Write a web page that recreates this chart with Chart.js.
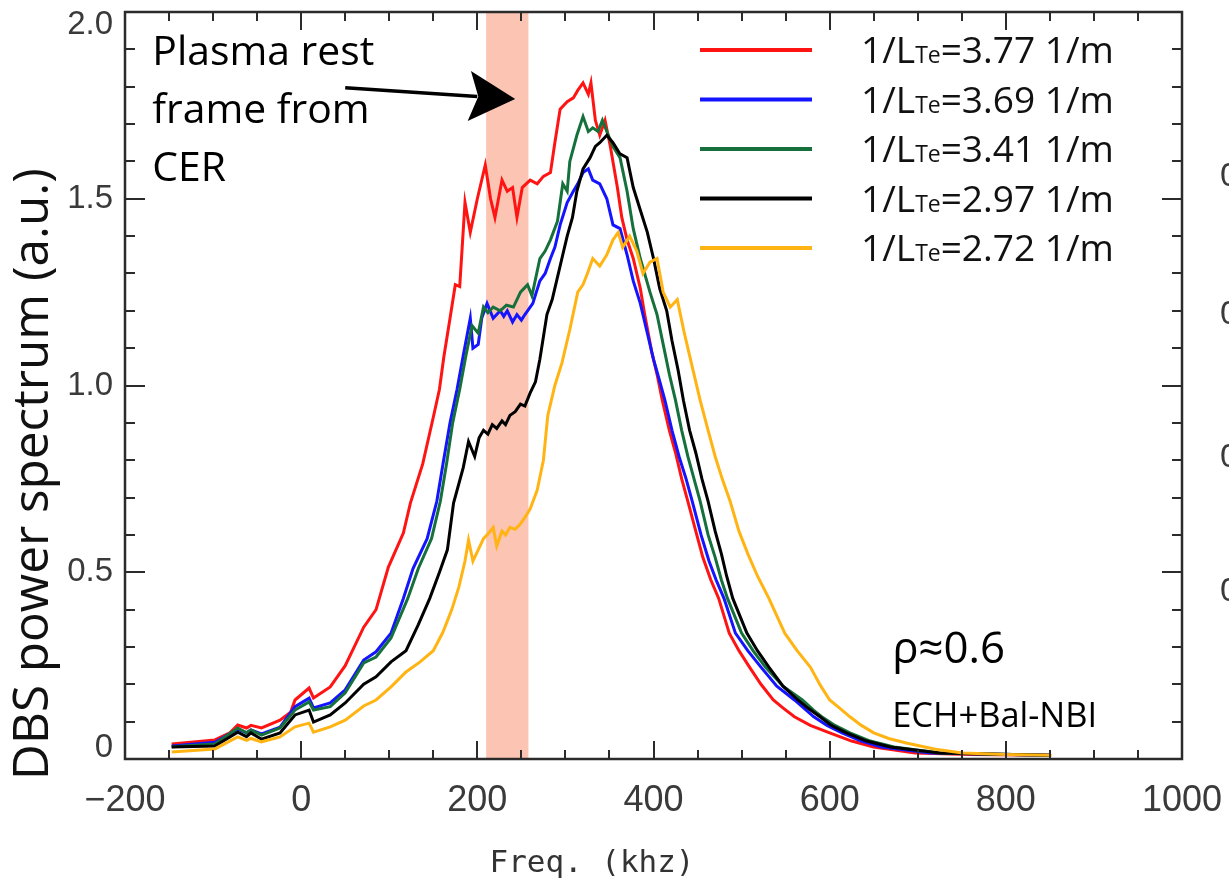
<!DOCTYPE html>
<html>
<head>
<meta charset="utf-8">
<script src="https://cdn.jsdelivr.net/npm/chart.js@4.4.1/dist/chart.umd.min.js"></script>
<style>
    html, body { margin: 0; padding: 0; background: #fff; }
    #wrap { position: relative; width: 1229px; height: 882px; }
</style>
</head>
<body>
<div id="wrap"><canvas id="dbsChart"></canvas></div>
<script>
/* DBS spectra, [freq (kHz), power (a.u.)] */
const redCurve = [[-147,0.040],[-98,0.051],[-81,0.070],[-72,0.091],[-62,0.083],[-57,0.090],[-45,0.083],[-24,0.104],[-12,0.125],[-7,0.158],[9,0.190],[14,0.163],[33,0.193],[50,0.250],[71,0.353],[85,0.400],[99,0.514],[116,0.605],[124,0.685],[138,0.790],[150,0.915],[157,0.990],[162,1.077],[169,1.180],[175,1.270],[180,1.265],[186,1.490],[192,1.410],[200,1.500],[209,1.590],[215,1.500],[220,1.450],[228,1.550],[234,1.520],[240,1.530],[245,1.450],[251,1.530],[260,1.550],[268,1.540],[275,1.560],[283,1.570],[288,1.650],[294,1.740],[302,1.760],[309,1.770],[314,1.790],[320,1.810],[326,1.780],[329,1.810],[334,1.710],[339,1.670],[345,1.710],[351,1.640],[359,1.530],[364,1.450],[370,1.390],[377,1.340],[385,1.260],[390,1.190],[398,1.090],[404,1.030],[410,0.960],[418,0.880],[425,0.820],[432,0.750],[439,0.690],[448,0.610],[456,0.540],[465,0.480],[474,0.430],[486,0.337],[497,0.290],[509,0.246],[522,0.200],[536,0.158],[548,0.135],[560,0.113],[578,0.090],[600,0.070],[625,0.048],[650,0.032],[697,0.016],[760,0.012],[850,0.010]]

const blueCurve = [[-147,0.035],[-98,0.045],[-72,0.080],[-62,0.070],[-57,0.078],[-45,0.067],[-24,0.085],[-7,0.140],[9,0.163],[14,0.137],[33,0.150],[50,0.185],[71,0.265],[85,0.287],[102,0.337],[116,0.430],[127,0.510],[143,0.590],[154,0.690],[161,0.790],[169,0.900],[177,0.990],[184,1.080],[192,1.180],[195,1.100],[201,1.110],[205,1.180],[211,1.220],[218,1.180],[226,1.200],[230,1.185],[234,1.200],[240,1.170],[245,1.190],[250,1.175],[254,1.190],[263,1.220],[271,1.280],[277,1.300],[283,1.340],[288,1.370],[294,1.430],[302,1.490],[309,1.520],[314,1.540],[320,1.570],[326,1.580],[331,1.550],[339,1.540],[347,1.500],[354,1.430],[362,1.420],[370,1.350],[377,1.280],[385,1.220],[393,1.140],[400,1.070],[406,1.020],[413,0.960],[421,0.880],[429,0.810],[437,0.750],[444,0.690],[454,0.600],[463,0.530],[471,0.480],[480,0.430],[493,0.337],[507,0.290],[522,0.246],[540,0.195],[560,0.158],[582,0.113],[597,0.090],[614,0.070],[636,0.048],[659,0.032],[714,0.016],[850,0.010]]

const greenCurve = [[-147,0.033],[-98,0.040],[-72,0.083],[-62,0.070],[-57,0.078],[-45,0.064],[-24,0.083],[-7,0.131],[9,0.153],[14,0.131],[33,0.140],[50,0.177],[71,0.257],[85,0.273],[102,0.324],[121,0.430],[133,0.510],[148,0.590],[158,0.690],[165,0.790],[172,0.900],[180,0.990],[187,1.080],[194,1.160],[201,1.140],[207,1.210],[212,1.195],[218,1.210],[226,1.200],[233,1.215],[241,1.210],[249,1.250],[257,1.270],[262,1.240],[271,1.340],[277,1.360],[283,1.390],[291,1.440],[297,1.540],[302,1.520],[305,1.600],[313,1.670],[320,1.720],[326,1.680],[331,1.690],[337,1.680],[342,1.710],[347,1.680],[354,1.640],[362,1.610],[370,1.520],[377,1.420],[385,1.340],[396,1.250],[404,1.190],[411,1.110],[418,1.030],[425,0.960],[432,0.880],[439,0.810],[446,0.750],[453,0.690],[462,0.600],[470,0.540],[477,0.480],[484,0.430],[500,0.337],[513,0.290],[527,0.246],[547,0.195],[569,0.158],[582,0.130],[591,0.113],[606,0.090],[623,0.070],[646,0.048],[673,0.032],[725,0.016],[850,0.010]]

const blackCurve = [[-147,0.032],[-98,0.035],[-72,0.072],[-62,0.060],[-57,0.070],[-45,0.053],[-24,0.070],[-7,0.118],[9,0.131],[14,0.099],[33,0.118],[50,0.150],[71,0.200],[85,0.220],[102,0.260],[119,0.290],[133,0.360],[146,0.430],[157,0.500],[166,0.560],[173,0.685],[184,0.780],[190,0.850],[197,0.810],[202,0.860],[207,0.880],[212,0.870],[217,0.895],[222,0.885],[228,0.905],[232,0.895],[237,0.920],[243,0.930],[249,0.950],[254,0.945],[260,0.980],[266,1.010],[271,1.070],[279,1.190],[285,1.230],[291,1.290],[296,1.340],[302,1.400],[308,1.450],[313,1.520],[320,1.580],[328,1.610],[334,1.640],[339,1.650],[347,1.670],[354,1.650],[362,1.620],[370,1.610],[377,1.530],[385,1.470],[393,1.410],[400,1.340],[407,1.260],[415,1.200],[421,1.120],[428,1.040],[434,0.960],[441,0.880],[448,0.820],[455,0.750],[462,0.690],[470,0.610],[477,0.550],[483,0.490],[490,0.430],[506,0.337],[518,0.290],[531,0.246],[547,0.195],[564,0.158],[576,0.135],[589,0.113],[602,0.090],[619,0.070],[642,0.048],[669,0.032],[725,0.016],[850,0.010]]

const yellowCurve = [[-147,0.019],[-98,0.027],[-72,0.059],[-62,0.050],[-57,0.055],[-45,0.046],[-24,0.059],[-7,0.086],[9,0.096],[14,0.072],[33,0.086],[50,0.104],[71,0.142],[85,0.158],[102,0.193],[119,0.233],[135,0.260],[150,0.290],[161,0.340],[171,0.400],[179,0.460],[186,0.530],[190,0.586],[195,0.530],[203,0.570],[207,0.590],[213,0.605],[218,0.620],[222,0.570],[228,0.610],[232,0.600],[237,0.620],[243,0.615],[249,0.630],[255,0.650],[260,0.670],[268,0.720],[275,0.800],[280,0.920],[288,1.000],[296,1.060],[305,1.150],[314,1.250],[320,1.270],[325,1.300],[331,1.340],[339,1.320],[347,1.350],[354,1.390],[360,1.410],[365,1.370],[373,1.400],[381,1.360],[388,1.300],[396,1.330],[404,1.340],[411,1.250],[419,1.210],[427,1.230],[435,1.140],[444,1.050],[453,0.960],[462,0.880],[470,0.810],[478,0.750],[487,0.690],[497,0.610],[507,0.550],[518,0.490],[531,0.430],[549,0.337],[563,0.290],[578,0.246],[590,0.195],[600,0.158],[612,0.135],[623,0.113],[636,0.090],[650,0.070],[667,0.055],[687,0.043],[720,0.026],[751,0.016],[800,0.012],[852,0.010]]

const curves = [redCurve, blueCurve, greenCurve, blackCurve, yellowCurve]
const curveColors = ['#ff1414', '#1414ff', '#16703c', '#000000', '#ffb414']
const gradients = ['3.77', '3.69', '3.41', '2.97', '2.72']

/* Axes */
const xMajorTicks = [-200, 0, 200, 400, 600, 800, 1000]
const xTickLabels = ['\u2212200', '0', '200', '400', '600', '800', '1000']
const yMajorTicks = [0, 0.5, 1.0, 1.5, 2.0]
const yTickLabels = ['0', '0.5', '1.0', '1.5', '2.0']

/* Rest frame from CER, kHz */
const cerBand = [210, 258]


const frameColor = '#2b2b2b'
const labelColor = '#3a3a3a'
const sansFont = "'Open Sans', sans-serif"
const tickFont = "'Liberation Sans', sans-serif"

/* font size that makes text span a given width */
const fitSize = (ctx, text, family, width) => {
    ctx.font = '100px ' + family
    return 100 * width / ctx.measureText(text).width
}

const fitText = (ctx, text, family, x, y, width, align) => {
    const size = fitSize(ctx, text, family, width)
    ctx.font = size + 'px ' + family
    ctx.textAlign = align || 'left'
    ctx.fillText(text, x, y)
}


/* Shaded band behind the curves */
const bandPlugin = {
    id: 'band',
    beforeDatasetsDraw(chart) {
        const { ctx, chartArea, scales } = chart
        const x0 = scales.x.getPixelForValue(cerBand[0])
        const x1 = scales.x.getPixelForValue(cerBand[1])
        ctx.save()
        ctx.fillStyle = '#fcc4b2'
        ctx.fillRect(x0, chartArea.top, x1 - x0, chartArea.bottom - chartArea.top)
        ctx.restore()
    }
}


/* Box, inward ticks, labels, notes and legend */
const framePlugin = {
    id: 'frame',
    afterDatasetsDraw(chart) {
        const { ctx, chartArea, scales } = chart
        const { left, right, top, bottom } = chartArea
        const xs = scales.x
        const ys = scales.y
        ctx.save()

        // ticks
        ctx.strokeStyle = frameColor
        ctx.lineWidth = 2
        ctx.beginPath()
        for (let v = -200; v <= 1000; v += 50) {
            const px = Math.round(xs.getPixelForValue(v))
            const len = v % 200 === 0 ? 18 : 9
            ctx.moveTo(px, bottom); ctx.lineTo(px, bottom - len)
            ctx.moveTo(px, top); ctx.lineTo(px, top + len)
        }
        for (let i = 0; i <= 20; i++) {
            const py = Math.round(ys.getPixelForValue(i / 10))
            const len = i % 5 === 0 ? 20 : 10
            ctx.moveTo(left, py); ctx.lineTo(left + len, py)
            ctx.moveTo(right, py); ctx.lineTo(right - len, py)
        }
        ctx.stroke()

        // box
        ctx.lineWidth = 2.5
        ctx.strokeRect(left, top, right - left, bottom - top)

        // tick labels
        ctx.fillStyle = labelColor
        ctx.textBaseline = 'middle'
        ctx.textAlign = 'center'
        ctx.font = '36px ' + tickFont
        xMajorTicks.forEach((v, i) => {
            ctx.fillText(xTickLabels[i], xs.getPixelForValue(v), bottom + 42)
        })
        ctx.textAlign = 'right'
        ctx.font = '33px ' + tickFont
        yMajorTicks.forEach((v, i) => {
            const py = Math.min(Math.max(ys.getPixelForValue(v), 25), 748)
            ctx.fillText(yTickLabels[i], left - 12, py)
        })

        // cut-off labels of the next panel
        ctx.textAlign = 'left'
        ctx.font = '34px ' + tickFont
        ;[177, 315, 458, 592].forEach(py => ctx.fillText('0.0', 1220, py))

        // axis titles
        ctx.textBaseline = 'alphabetic'
        ctx.fillStyle = '#333'
        fitText(ctx, 'Freq. (khz)', "'DejaVu Sans Mono', monospace", 592, 872, 205, 'center')

        ctx.save()
        ctx.translate(34, 474)
        ctx.rotate(-Math.PI / 2)
        ctx.fillStyle = '#111'
        ctx.textBaseline = 'middle'
        fitText(ctx, 'DBS power spectrum (a.u.)', sansFont, 0, 0, 612, 'center')
        ctx.restore()

        // notes
        ctx.fillStyle = '#000'
        ctx.textBaseline = 'alphabetic'
        const noteX = xs.getPixelForValue(-169)
        const noteSize = fitSize(ctx, 'Plasma rest', sansFont, 222)
        ctx.font = noteSize + 'px ' + sansFont
        ctx.textAlign = 'left'
        ctx.fillText('Plasma rest', noteX, ys.getPixelForValue(1.858))
        ctx.fillText('frame from', noteX, ys.getPixelForValue(1.703))
        ctx.fillText('CER', noteX, ys.getPixelForValue(1.547))

        fitText(ctx, '\u03c1\u22480.6', sansFont, xs.getPixelForValue(671), ys.getPixelForValue(0.257), 113)
        fitText(ctx, 'ECH+Bal-NBI', sansFont, xs.getPixelForValue(671), ys.getPixelForValue(0.086), 205)

        // arrow into the band
        const ax0 = xs.getPixelForValue(50), ay0 = ys.getPixelForValue(1.797)
        const ax1 = xs.getPixelForValue(243), ay1 = ys.getPixelForValue(1.767)
        const ang = Math.atan2(ay1 - ay0, ax1 - ax0)
        const headLen = 46, headHalf = 25
        const bx = ax1 - headLen * Math.cos(ang), by = ay1 - headLen * Math.sin(ang)
        ctx.strokeStyle = '#000'
        ctx.lineWidth = 3.5
        ctx.beginPath()
        ctx.moveTo(ax0, ay0)
        ctx.lineTo(bx + 8 * Math.cos(ang), by + 8 * Math.sin(ang))
        ctx.stroke()
        ctx.fillStyle = '#000'
        ctx.beginPath()
        ctx.moveTo(ax1, ay1)
        ctx.lineTo(bx - headHalf * Math.sin(ang), by + headHalf * Math.cos(ang))
        ctx.lineTo(bx + 9 * Math.cos(ang), by + 9 * Math.sin(ang))
        ctx.lineTo(bx + headHalf * Math.sin(ang), by - headHalf * Math.cos(ang))
        ctx.closePath()
        ctx.fill()

        // legend
        const lineX0 = right - 482, lineX1 = right - 370, textX = right - 321
        ctx.font = '100px ' + sansFont
        const w100 = ctx.measureText('1/L').width + ctx.measureText('=3.77 1/m').width
        ctx.font = '62px ' + sansFont
        const sub100 = ctx.measureText('Te').width
        const fs = 100 * 253 / (w100 + sub100)
        gradients.forEach((g, i) => {
            const ly = top + 38 + i * 49.5
            ctx.strokeStyle = curveColors[i]
            ctx.lineWidth = 4
            ctx.beginPath()
            ctx.moveTo(lineX0, ly); ctx.lineTo(lineX1, ly)
            ctx.stroke()

            const base = ly + fs * 0.36
            ctx.fillStyle = '#111'
            ctx.textAlign = 'left'
            let tx = textX
            ctx.font = fs + 'px ' + sansFont
            ctx.fillText('1/L', tx, base)
            tx += ctx.measureText('1/L').width
            ctx.font = (fs * 0.62) + 'px ' + sansFont
            ctx.fillText('Te', tx, base)
            tx += ctx.measureText('Te').width
            ctx.font = fs + 'px ' + sansFont
            ctx.fillText('=' + g + ' 1/m', tx, base)
        })

        ctx.restore()
    }
}


const spectrumChart = new Chart(document.getElementById('dbsChart'), {
    type: 'scatter',
    data: {
        datasets: curves.map((curve, i) => ({
            label: '1/LTe=' + gradients[i] + ' 1/m',
            data: curve.map(([x, y]) => ({ x: x, y: y })),
            showLine: true,
            borderColor: curveColors[i],
            borderWidth: 3,
            pointRadius: 0,
            tension: 0,
            fill: false,
            order: curves.length - i,
        }))
    },
    options: {
        responsive: true,
        maintainAspectRatio: false,
        animation: false,
        devicePixelRatio: 1,
        layout: { padding: { left: 125, right: 47, top: 12, bottom: 123 } },
        plugins: {
            legend: { display: false },
            tooltip: { enabled: false },
        },
        scales: {
            x: { type: 'linear', min: -200, max: 1000, display: false },
            y: { type: 'linear', min: 0, max: 2, display: false },
        },
    },
    plugins: [bandPlugin, framePlugin]
})
</script>
</body>
</html>
